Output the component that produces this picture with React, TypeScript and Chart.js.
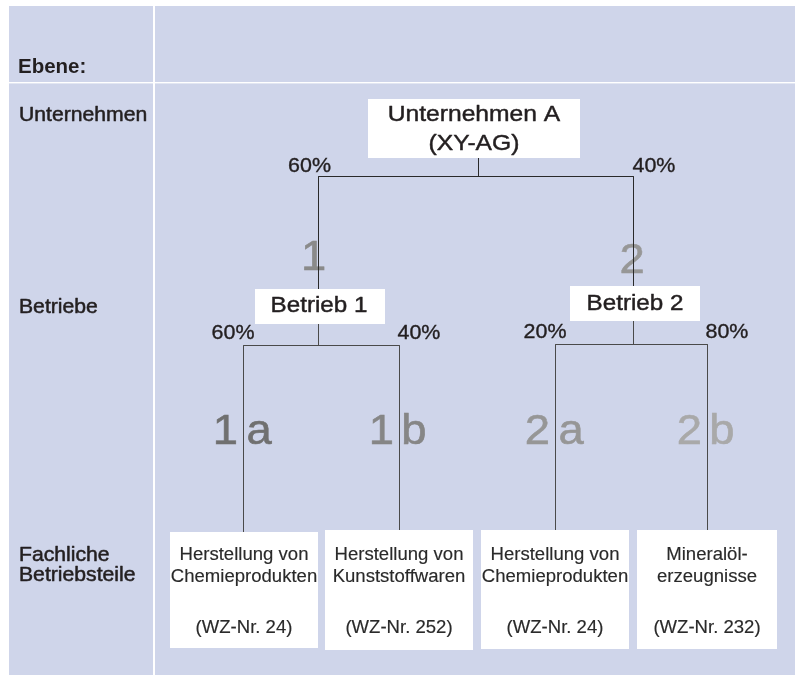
import React, { useEffect, useRef } from "react";
import { Chart, registerables } from "chart.js";

Chart.register(...registerables);

// ---------- content (values) ----------
const levelLabels: string[][] = [["Ebene:"], ["Unternehmen"], ["Betriebe"], ["Fachliche", "Betriebsteile"]];
const companyLines = ["Unternehmen A", "(XY-AG)"];
const plantNames = ["Betrieb 1", "Betrieb 2"];
const plantShares = [60, 40];
const partLines: string[][] = [
  ["Herstellung von", "Chemieprodukten"],
  ["Herstellung von", "Kunststoffwaren"],
  ["Herstellung von", "Chemieprodukten"],
  ["Mineralöl-", "erzeugnisse"],
];
const partCodesWZ = ["(WZ-Nr. 24)", "(WZ-Nr. 252)", "(WZ-Nr. 24)", "(WZ-Nr. 232)"];
const partShares = [60, 40, 20, 80];
const plantCodes = ["1", "2"];
const partCodes: string[][] = [["1", "a"], ["1", "b"], ["2", "a"], ["2", "b"]];

// ---------- layout (diagram units = scale units, 798 x 676) ----------
const W = 798;
const H = 676;
const panel = { x0: 9, x1: 795, y0: 6, y1: 675 };
const sep = { x0: 153, x1: 155, y0: 82, y1: 83.4 };
const levelX = 19;
const levelBaselines = [[73], [121], [313], [561, 580.5]];
const companyBox = { x0: 368, x1: 580, y0: 99, y1: 158, cx: 474, base: [121, 150] };
const companyStemX = 478.5;
const companyBarY = 176.5;
const plantX = [318.5, 633.5];
const plantBoxes = [
  { x0: 255, x1: 385, y0: 289, y1: 324, cx: 319, base: 312.3 },
  { x0: 570, x1: 700, y0: 286, y1: 321, cx: 635, base: 309.5 },
];
const plantBarY = [345.5, 344.5];
const partX = [243.5, 399.5, 555.5, 707.5];
const partBoxes = [
  { x0: 170, x1: 318, y0: 532, y1: 648 },
  { x0: 325, x1: 473, y0: 530, y1: 650 },
  { x0: 481, x1: 629, y0: 530, y1: 649 },
  { x0: 637, x1: 777, y0: 530, y1: 649 },
];
const partBaselines = [559.5, 581.5, 633];
const topPctBase = 172.3;
const plantPctBase = [339, 338.3];
const plantCodeBase = [270, 273];
const partCodeBase = 444;

// ---------- styles ----------
const BG = "#cfd5ea";
const INK = "#231f20";
const LINE_TOP = "#2a2a2a";
const LINE_LOW = "#4a4a4a";
const plantCodeColors = ["#8a8a8a", "#979797"];
const partCodeColors = ["#707070", "#868686", "#969696", "#a9a9a9"];
const FONT = '"Liberation Sans", Arial, Helvetica, sans-serif';

type TxtOpt = {
  size: number;
  weight?: string;
  color?: string;
  align?: "left" | "center" | "right";
  stretch?: number;
  stroke?: number;
};

function drawText(ctx: CanvasRenderingContext2D, text: string, x: number, y: number, o: TxtOpt) {
  ctx.save();
  ctx.font = `${o.weight || "normal"} ${o.size}px ${FONT}`;
  ctx.textAlign = "left";
  ctx.textBaseline = "alphabetic";
  const sx = o.stretch || 1;
  const w = ctx.measureText(text).width * sx;
  const align = o.align || "left";
  let left = x;
  if (align === "center") left = x - w / 2;
  else if (align === "right") left = x - w;
  ctx.translate(left, y);
  ctx.scale(sx, 1);
  ctx.fillStyle = o.color || INK;
  ctx.fillText(text, 0, 0);
  if (o.stroke) {
    ctx.lineWidth = o.stroke;
    ctx.strokeStyle = o.color || INK;
    ctx.lineJoin = "round";
    ctx.strokeText(text, 0, 0);
  }
  ctx.restore();
}

function seg(x0: number, y0: number, x1: number, y1: number, color: string) {
  return {
    type: "line" as const,
    data: [
      { x: x0, y: y0 },
      { x: x1, y: y1 },
    ],
    borderColor: color,
    borderWidth: 1,
    pointRadius: 0,
    showLine: true,
    fill: false,
    tension: 0,
  };
}

function buildDatasets() {
  const ds: any[] = [];
  ds.push(seg(companyStemX, companyBox.y1, companyStemX, companyBarY, LINE_TOP));
  ds.push(seg(plantX[0], companyBarY, plantX[1], companyBarY, LINE_TOP));
  plantX.forEach((x, i) => ds.push(seg(x, companyBarY, x, plantBoxes[i].y0, LINE_TOP)));
  plantBoxes.forEach((b, i) => {
    const x = plantX[i];
    const by = plantBarY[i];
    ds.push(seg(x, b.y1, x, by, LINE_LOW));
    const l = partX[i * 2];
    const r = partX[i * 2 + 1];
    ds.push(seg(l, by, r, by, LINE_LOW));
    ds.push(seg(l, by, l, partBoxes[i * 2].y0, LINE_LOW));
    ds.push(seg(r, by, r, partBoxes[i * 2 + 1].y0, LINE_LOW));
  });
  return ds;
}

const diagramPlugin = {
  id: "orgDiagram",
  beforeDraw(chart: any) {
    const ctx: CanvasRenderingContext2D = chart.ctx;
    const X = (v: number) => chart.scales.x.getPixelForValue(v);
    const Y = (v: number) => chart.scales.y.getPixelForValue(v);
    ctx.save();
    ctx.fillStyle = "#ffffff";
    ctx.fillRect(0, 0, chart.width, chart.height);
    ctx.fillStyle = BG;
    ctx.fillRect(X(panel.x0), Y(panel.y0), X(panel.x1) - X(panel.x0), Y(panel.y1) - Y(panel.y0));
    ctx.fillStyle = "#ffffff";
    ctx.fillRect(X(sep.x0), Y(panel.y0), X(sep.x1) - X(sep.x0), Y(panel.y1) - Y(panel.y0));
    ctx.fillRect(X(panel.x0), Y(sep.y0), X(panel.x1) - X(panel.x0), Y(sep.y1) - Y(sep.y0));
    ctx.restore();
  },
  beforeDatasetsDraw(chart: any) {
    const ctx: CanvasRenderingContext2D = chart.ctx;
    const X = (v: number) => chart.scales.x.getPixelForValue(v);
    const Y = (v: number) => chart.scales.y.getPixelForValue(v);
    ctx.save();
    ctx.textBaseline = "alphabetic";
    ctx.textAlign = "left";
    const SX = 1.08;
    const drawGlyph = (c: string, inkLeft: number, base: number, color: string) => {
      ctx.save();
      ctx.font = `normal 42px ${FONT}`;
      const m = ctx.measureText(c);
      ctx.translate(inkLeft, base);
      ctx.scale(SX, 1);
      ctx.fillStyle = color;
      ctx.fillText(c, m.actualBoundingBoxLeft, 0);
      ctx.lineWidth = 0.6;
      ctx.strokeStyle = color;
      ctx.strokeText(c, m.actualBoundingBoxLeft, 0);
      ctx.restore();
    };
    const inkWidth = (c: string) => {
      ctx.font = `normal 42px ${FONT}`;
      const m = ctx.measureText(c);
      return (m.actualBoundingBoxRight + m.actualBoundingBoxLeft) * SX;
    };
    plantCodes.forEach((c, i) => {
      const cx = X(plantX[i]) - (i === 0 ? 4 : 1);
      drawGlyph(c, cx - inkWidth(c) / 2, Y(plantCodeBase[i]), plantCodeColors[i]);
    });
    partCodes.forEach((pc, i) => {
      const lx = X(partX[i]);
      drawGlyph(pc[0], lx - 7 - inkWidth(pc[0]), Y(partCodeBase), partCodeColors[i]);
      drawGlyph(pc[1], lx + 4, Y(partCodeBase), partCodeColors[i]);
    });
    ctx.restore();
  },
  afterDatasetsDraw(chart: any) {
    const ctx: CanvasRenderingContext2D = chart.ctx;
    const X = (v: number) => chart.scales.x.getPixelForValue(v);
    const Y = (v: number) => chart.scales.y.getPixelForValue(v);
    const box = (b: { x0: number; x1: number; y0: number; y1: number }) => {
      ctx.save();
      ctx.fillStyle = "#ffffff";
      ctx.fillRect(X(b.x0), Y(b.y0), X(b.x1) - X(b.x0), Y(b.y1) - Y(b.y0));
      ctx.restore();
    };
    const pct = { size: 19.5, stretch: 1.1, stroke: 0.35 };

    levelLabels.forEach((lines, i) => {
      lines.forEach((t, j) => {
        if (i === 0) drawText(ctx, t, X(levelX - 1), Y(levelBaselines[i][j]), { size: 20.5, weight: "bold" });
        else drawText(ctx, t, X(levelX), Y(levelBaselines[i][j]), { size: 19.8, stretch: 1.07, stroke: 0.5 });
      });
    });

    box(companyBox);
    companyLines.forEach((t, j) =>
      drawText(ctx, t, X(companyBox.cx), Y(companyBox.base[j]), { size: 22, align: "center", stretch: 1.12, stroke: 0.45 })
    );
    drawText(ctx, `${plantShares[0]}%`, X(plantX[0] + 12.5), Y(topPctBase), { ...pct, align: "right" });
    drawText(ctx, `${plantShares[1]}%`, X(plantX[1] - 1), Y(topPctBase), { ...pct, align: "left" });

    plantBoxes.forEach((b, i) => {
      box(b);
      drawText(ctx, plantNames[i], X(b.cx), Y(b.base), { size: 22, align: "center", stretch: 1.1, stroke: 0.45 });
      const l = partX[i * 2];
      const r = partX[i * 2 + 1];
      drawText(ctx, `${partShares[i * 2]}%`, X(l + 11), Y(plantPctBase[i]), { ...pct, align: "right" });
      drawText(ctx, `${partShares[i * 2 + 1]}%`, X(r - 2), Y(plantPctBase[i]), { ...pct, align: "left" });
    });

    const small = { size: 17.5, align: "center" as const, stretch: 1.06, color: "#2a2a2a", stroke: 0.15 };
    partBoxes.forEach((b, i) => {
      box(b);
      const cx = (b.x0 + b.x1) / 2;
      partLines[i].forEach((t, j) => drawText(ctx, t, X(cx), Y(partBaselines[j]), small));
      drawText(ctx, partCodesWZ[i], X(cx), Y(partBaselines[2]), small);
    });
  },
};

export default function App() {
  const ref = useRef<HTMLCanvasElement | null>(null);
  useEffect(() => {
    document.body.style.margin = "0";
    const canvas = ref.current;
    if (!canvas) return;
    const chart = new Chart(canvas, {
      type: "scatter",
      data: { datasets: buildDatasets() },
      options: {
        animation: false,
        responsive: false,
        devicePixelRatio: 1,
        layout: { padding: 0 },
        events: [],
        plugins: { legend: { display: false }, tooltip: { enabled: false } },
        scales: {
          x: { type: "linear", min: 0, max: W, display: false },
          y: { type: "linear", min: 0, max: H, reverse: true, display: false },
        },
      },
      plugins: [diagramPlugin],
    });
    return () => chart.destroy();
  }, []);
  return (
    <div style={{ width: W, height: H }}>
      <canvas ref={ref} width={W} height={H} style={{ display: "block", width: W, height: H }} />
    </div>
  );
}
